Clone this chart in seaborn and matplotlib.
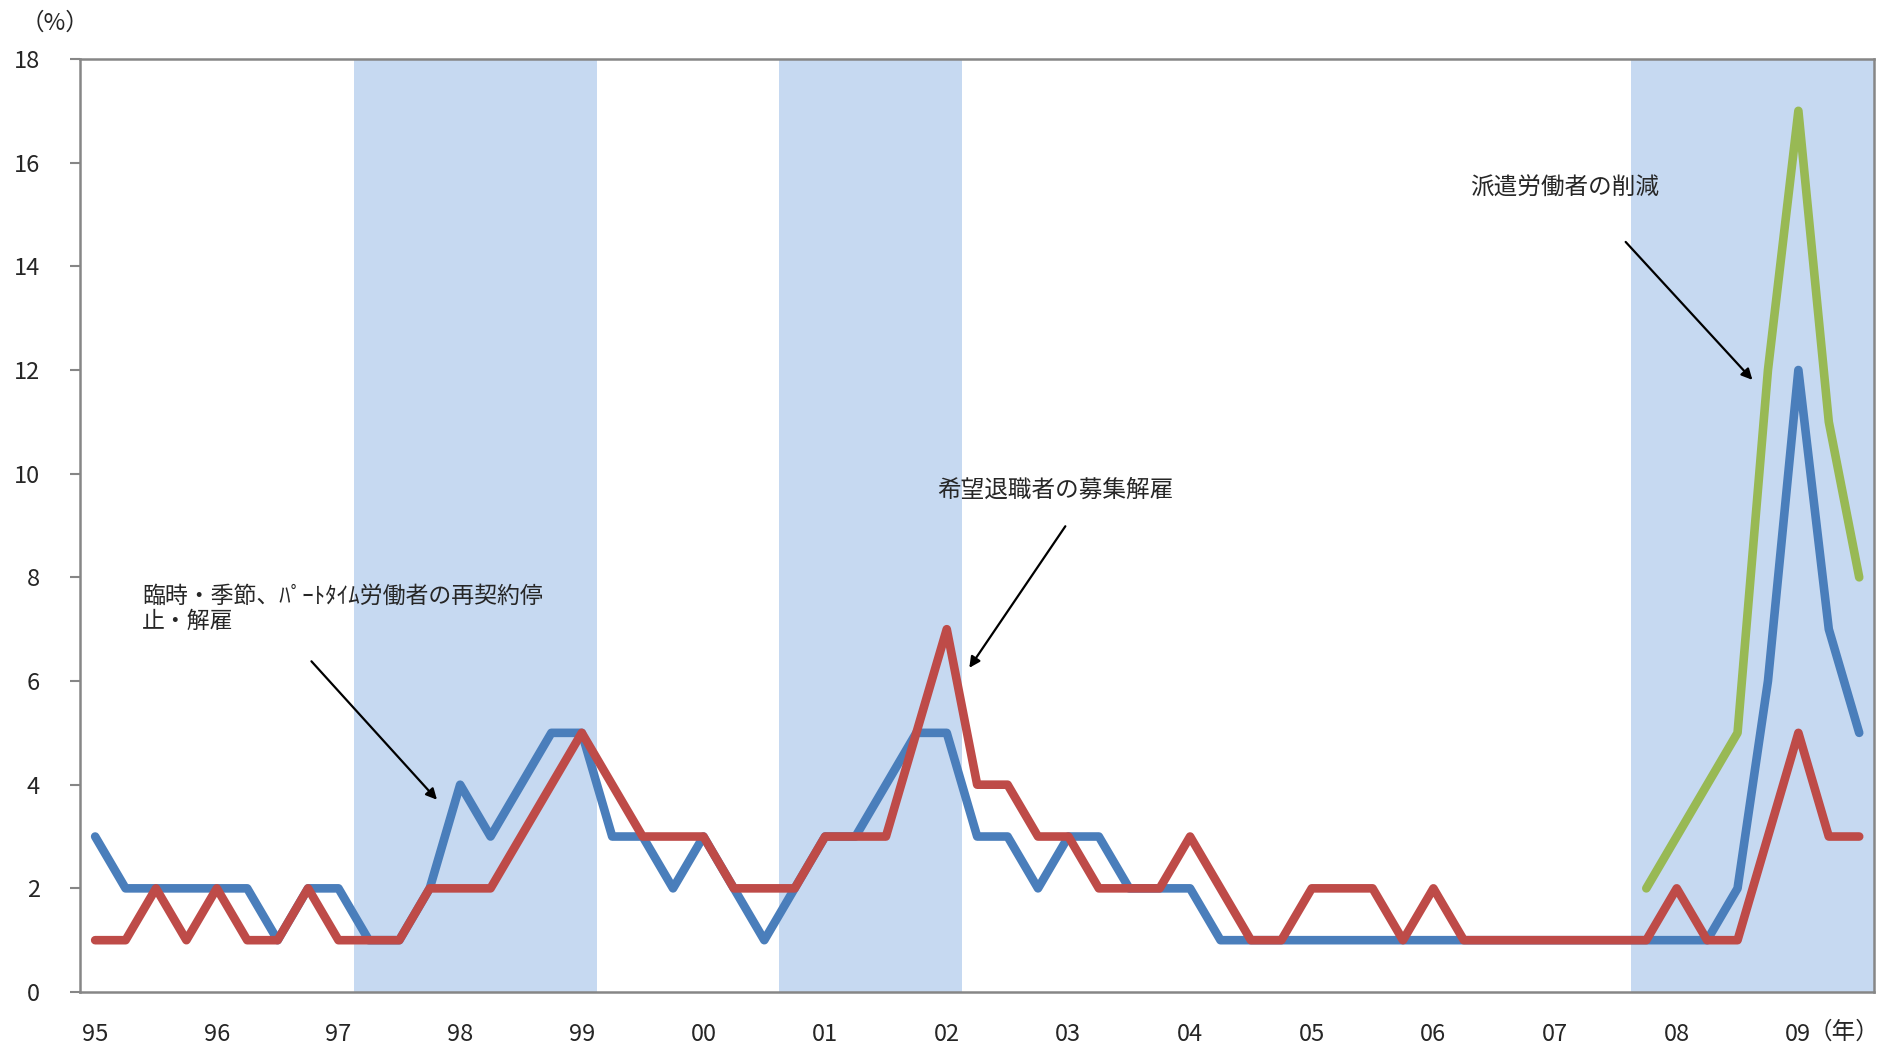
"""
Quarterly share of establishments by employment adjustment type (1995-2009).
"""

import matplotlib
matplotlib.use("Agg")
import matplotlib.pyplot as plt
import seaborn as sns
import numpy as np
import pandas as pd

# Style settings
sns.set_style("white")
plt.rcParams['font.family'] = ['Noto Sans CJK JP', 'DejaVu Sans']

# Data: quarterly, 95Q1 .. 09Q3
years = ["95", "96", "97", "98", "99", "00", "01", "02",
         "03", "04", "05", "06", "07", "08", "09"]

temp_parttime = [3, 2, 2, 2,  2, 2, 1, 2,  2, 1, 1, 2,  4, 3, 4, 5,
                 5, 3, 3, 2,  3, 2, 1, 2,  3, 3, 4, 5,  5, 3, 3, 2,
                 3, 3, 2, 2,  2, 1, 1, 1,  1, 1, 1, 1,  1, 1, 1, 1,
                 1, 1, 1, 1,  1, 1, 2, 6,  12, 7, 5]

voluntary_retire = [1, 1, 2, 1,  2, 1, 1, 2,  1, 1, 1, 2,  2, 2, 3, 4,
                    5, 4, 3, 3,  3, 2, 2, 2,  3, 3, 3, 5,  7, 4, 4, 3,
                    3, 2, 2, 2,  3, 2, 1, 1,  2, 2, 2, 1,  2, 1, 1, 1,
                    1, 1, 1, 1,  2, 1, 1, 3,  5, 3, 3]

# dispatched workers series starts at 07Q4
dispatched_start = 51
dispatched = [2, 3, 4, 5, 12, 17, 11, 8]

# recession periods (in quarter index units, shaded)
recessions = [(8.5, 16.5), (22.5, 28.5), (50.5, 58.5)]

series_names = ["temp", "voluntary", "dispatched"]
colors = {"temp": "#4A7EBB", "voluntary": "#BE4B48", "dispatched": "#98B954"}

n = len(temp_parttime)
df = pd.concat([
    pd.DataFrame({"q": np.arange(n), "value": temp_parttime, "series": "temp"}),
    pd.DataFrame({"q": np.arange(n), "value": voluntary_retire, "series": "voluntary"}),
    pd.DataFrame({"q": np.arange(dispatched_start, dispatched_start + len(dispatched)),
                  "value": dispatched, "series": "dispatched"}),
], ignore_index=True)

fig = plt.figure(figsize=(18.81, 10.46), dpi=100)
ax = fig.add_axes([0.0425, 0.0516, 0.954, 0.892])

for a, b in recessions:
    ax.axvspan(a, b, color="#C6D9F1", lw=0, zorder=0)

sns.lineplot(data=df, x="q", y="value", hue="series", hue_order=series_names,
             palette=colors, estimator=None, sort=False, linewidth=6.2,
             legend=False, ax=ax, solid_capstyle="round", solid_joinstyle="round",
             zorder=3)

ax.set_xlim(-0.5, 58.5)
ax.set_ylim(0, 18)
ax.set_yticks(np.arange(0, 19, 2))
ax.set_yticklabels([str(v) for v in range(0, 19, 2)], fontsize=17)
ax.set_xticks(np.arange(0, 4 * len(years), 4))
ax.set_xticklabels(years, fontsize=17)
ax.set_xlabel("")
ax.set_ylabel("")

for side in ["left", "bottom", "top", "right"]:
    ax.spines[side].set_color("#868686")
    ax.spines[side].set_linewidth(1.8)
ax.tick_params(axis="y", direction="out", length=7, width=1.5, color="#868686", pad=22, left=True)
ax.tick_params(axis="x", length=0, pad=22)

# unit labels
fig.text(55 / 1881, 1 - 23 / 1046, "（%）", fontsize=17, ha="center", va="center")
fig.text(1879 / 1881, 1 - 1032 / 1046, "（年）", fontsize=17, ha="right", va="center")

# annotations
ax.text(1.55, 7.85, "臨時・季節、ﾊﾟｰﾄﾀｲﾑ労働者の再契約停\n止・解雇",
        fontsize=16.5, ha="left", va="top", linespacing=1.1)
ax.annotate("", xy=(11.3, 3.67), xytext=(7.05, 6.42),
            arrowprops=dict(arrowstyle="-|>", color="black", lw=1.6, mutation_scale=16))

ax.text(27.7, 9.69, "希望退職者の募集解雇", fontsize=17, ha="left", va="center")
ax.annotate("", xy=(28.69, 6.21), xytext=(31.95, 9.03),
            arrowprops=dict(arrowstyle="-|>", color="black", lw=1.6, mutation_scale=16))

ax.text(45.2, 15.5, "派遣労働者の削減", fontsize=17, ha="left", va="center")
ax.annotate("", xy=(54.55, 11.77), xytext=(50.26, 14.51),
            arrowprops=dict(arrowstyle="-|>", color="black", lw=1.6, mutation_scale=16))

plt.savefig("out.png", dpi=100)
